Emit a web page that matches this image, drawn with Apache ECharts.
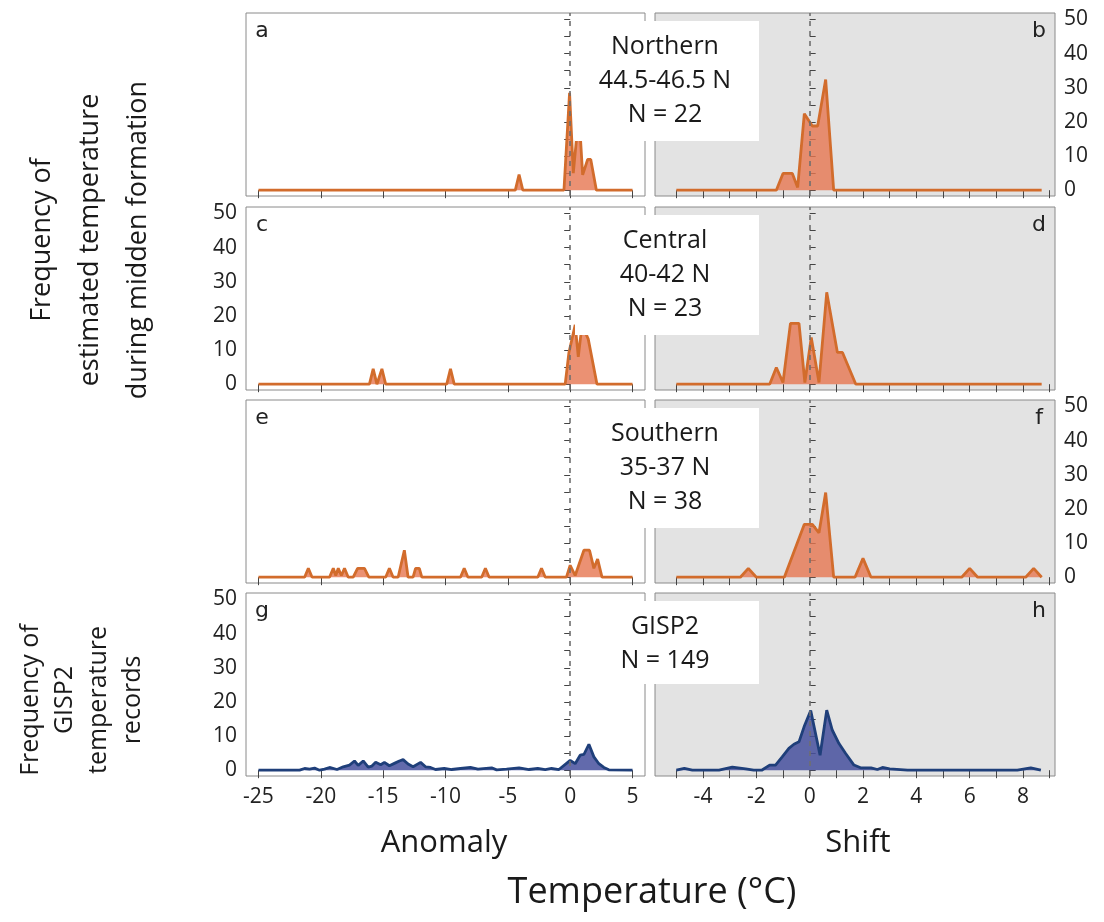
<!DOCTYPE html>
<html><head><meta charset="utf-8">
<script src="https://cdn.jsdelivr.net/npm/echarts@6/dist/echarts.min.js"></script>
<style>html,body{margin:0;padding:0;background:#fff}#c{width:1104px;height:922px}</style>
</head><body><div id="c"></div>
<script>
// ---- tick / label values ----
const anomalyTicks = [-25, -20, -15, -10, -5, 0, 5];
const shiftTicks = [-5, -4, -3, -2, -1, 0, 1, 2, 3, 4, 5, 6, 7, 8, 9];
const shiftLabels = [-4, -2, 0, 2, 4, 6, 8];
const freqTicks = [0, 5, 10, 15, 20, 25, 30, 35, 40, 45, 50];
const freqLabels = [0, 10, 20, 30, 40, 50];

// ---- region labels ----
const regionNames = ['Northern', 'Central', 'Southern', 'GISP2'];
const regionLats = ['44.5-46.5 N', '40-42 N', '35-37 N', ''];
const regionN = [22, 23, 38, 149];
const panelLetters = [['a', 'b'], ['c', 'd'], ['e', 'f'], ['g', 'h']];

// ---- series data: [temperature, frequency %] ----
const northernAnomaly = [[-25,0],[-4.4,0],[-4.1,4.6],[-3.8,0],[-0.5,0],[-0.05,28.5],[0.25,5],[0.7,22.7],[1.0,4.5],[1.4,9],[1.65,9],[2.1,0],[5,0]];
const northernShift = [[-5,0],[-1.25,0],[-1.0,4.9],[-0.65,4.9],[-0.45,0.8],[-0.2,22.4],[0.1,18.8],[0.3,18.8],[0.6,32.4],[0.9,0],[8.7,0]];
const centralAnomaly = [[-25,0],[-16.1,0],[-15.8,4.5],[-15.5,0],[-15.4,0],[-15.1,4.5],[-14.8,0],[-9.9,0],[-9.6,4.5],[-9.3,0],[-0.4,0],[-0.1,9.3],[0.4,17.4],[0.65,8],[0.95,17.4],[1.45,13.2],[2.15,0],[5,0]];
const centralShift = [[-5,0],[-1.5,0],[-1.25,4.9],[-1.0,0.5],[-0.72,17.8],[-0.4,17.8],[-0.18,0.5],[0.06,13.7],[0.35,0.5],[0.64,26.9],[1.04,9.3],[1.23,9.3],[1.73,0],[8.7,0]];
const southernAnomaly = [[-25,0],[-21.3,0],[-21.0,2.6],[-20.7,0],[-19.3,0],[-19.0,2.6],[-18.8,0.5],[-18.6,2.6],[-18.35,0.5],[-18.1,2.6],[-17.8,0],[-17.4,0],[-17.05,2.6],[-16.5,2.6],[-16.15,0],[-14.8,0],[-14.5,2.6],[-14.2,0],[-13.8,0],[-13.3,7.9],[-13.0,0],[-12.6,0],[-12.4,2.6],[-12.1,2.6],[-11.9,0],[-8.8,0],[-8.5,2.6],[-8.2,0],[-7.1,0],[-6.8,2.6],[-6.5,0],[-2.6,0],[-2.3,2.6],[-2.0,0],[-0.3,0],[0.0,3.5],[0.4,0.5],[1.1,7.9],[1.55,7.9],[1.9,2.6],[2.2,5.3],[2.55,0],[5,0]];
const southernShift = [[-5,0],[-2.6,0],[-2.3,2.6],[-2.0,0],[-0.95,0],[-0.2,15.5],[0.1,15.5],[0.35,13.0],[0.6,24.8],[0.9,0],[1.7,0],[2.0,5.5],[2.3,0],[5.7,0],[6.0,2.6],[6.3,0],[8.1,0],[8.4,2.6],[8.7,0]];
const gisp2Anomaly = [[-25,0],[-21.7,0],[-21.3,0.5],[-20.9,0.3],[-20.5,0.6],[-20.1,0],[-19.7,0.3],[-19.3,0.8],[-18.7,0.2],[-18.2,1.0],[-17.7,1.5],[-17.3,2.7],[-17.0,1.4],[-16.6,2.7],[-16.2,0.9],[-15.9,1.2],[-15.6,2.3],[-15.2,1.6],[-14.9,2.3],[-14.5,1.3],[-14.1,2.0],[-13.7,2.7],[-13.4,3.1],[-13.0,1.8],[-12.6,1.0],[-12.0,2.3],[-11.6,1.0],[-11.2,0.8],[-10.8,0.2],[-10.1,0.5],[-9.5,0.2],[-8.8,0.5],[-8.0,0.8],[-7.4,0.3],[-6.3,0.7],[-5.9,0.1],[-5.1,0.3],[-4.1,0.7],[-3.3,0.2],[-2.6,0.5],[-2.0,0.2],[-1.5,0.5],[-0.9,0.2],[0.0,2.9],[0.4,1.9],[0.8,4.4],[1.1,4.6],[1.5,7.6],[1.9,3.9],[2.3,1.9],[2.7,0.8],[3.1,0.1],[5,0]];
const gisp2Shift = [[-5,0],[-4.7,0.5],[-4.4,0],[-3.4,0],[-2.9,0.9],[-2.4,0.4],[-2.1,0],[-1.8,0],[-1.5,1.5],[-1.28,1.5],[-1.03,3.9],[-0.78,6.4],[-0.59,7.6],[-0.4,8.3],[-0.21,12.7],[0.04,17.5],[0.39,4.4],[0.64,17.6],[0.85,11.7],[1.1,7.8],[1.35,4.9],[1.66,1.5],[1.91,0.7],[2.3,0.7],[2.54,0.2],[2.73,0.8],[3.0,0.4],[3.67,0],[7.79,0],[8.29,0.7],[8.67,0]];

const rows = [
  [northernAnomaly, northernShift],
  [centralAnomaly, centralShift],
  [southernAnomaly, southernShift],
  [gisp2Anomaly, gisp2Shift]
];

// ---- layout ----
const FONT = "'Open Sans', 'Noto Sans', sans-serif";
const rowTops = [13, 207, 400, 593];
const rowH = 183;
const leftGrid = { left: 246, width: 399 };
const rightGrid = { left: 655, width: 400 };
const orange = { line: '#D26C2C', fill: 'rgba(230,118,80,0.8)' };
const blue = { line: '#1F3F7A', fill: 'rgba(70,80,158,0.85)' };

const grids = [], xAxes = [], yAxes = [], series = [], graphics = [];

rows.forEach((pair, r) => {
  const col = r === 3 ? blue : orange;
  pair.forEach((data, c) => {
    const gi = r * 2 + c;
    const g = c === 0 ? leftGrid : rightGrid;
    grids.push({
      left: g.left, width: g.width, top: rowTops[r], height: rowH,
      show: true, borderColor: '#8a8a8a', borderWidth: 1,
      backgroundColor: c === 0 ? '#ffffff' : '#e3e3e3'
    });
    xAxes.push({
      type: 'value', gridIndex: gi,
      min: c === 0 ? -26 : -5.8, max: c === 0 ? 6 : 9.2,
      axisLine: { show: false },
      splitLine: { show: false },
      axisTick: { show: true, length: 8, customValues: c === 0 ? anomalyTicks : shiftTicks, lineStyle: { color: '#444', width: 1 } },
      axisLabel: { show: r === 3, customValues: c === 0 ? anomalyTicks : shiftLabels, margin: 11, fontFamily: FONT, fontSize: 21, color: '#222' }
    });
    const showY = (c === 0 && (r === 1 || r === 3)) || (c === 1 && (r === 0 || r === 2));
    yAxes.push({
      type: 'value', gridIndex: gi, position: c === 0 ? 'left' : 'right',
      min: -1.7, max: 51.9,
      axisLine: { show: false },
      splitLine: { show: false },
      axisTick: { show: true, length: 6, customValues: freqTicks, lineStyle: { color: '#444', width: 1 } },
      axisLabel: { show: showY, customValues: freqLabels, margin: 9, fontFamily: FONT, fontSize: 21, color: '#222' }
    });
    series.push({
      type: 'line', xAxisIndex: gi, yAxisIndex: gi, data: data,
      symbol: 'none', silent: true, animation: false,
      lineStyle: { color: col.line, width: 2.8 },
      itemStyle: { color: col.line },
      areaStyle: { color: col.fill, opacity: 1 },
      z: 3,
      markLine: {
        symbol: 'none', silent: true, animation: false,
        label: { show: false },
        lineStyle: { type: [5, 5], color: '#6f6f6f', width: 1.6 },
        data: [{ xAxis: 0 }],
        z: 4
      }
    });
    // panel letter
    graphics.push({
      type: 'text', z: 50,
      x: c === 0 ? 262 : 1039, y: rowTops[r] + 18,
      style: { text: panelLetters[r][c], font: "22px 'DejaVu Sans', sans-serif", fill: '#222', textAlign: 'center', textVerticalAlign: 'middle' }
    });
  });
  // white label box
  const lines = [regionNames[r]];
  if (regionLats[r]) lines.push(regionLats[r]);
  lines.push('N = ' + regionN[r]);
  const boxTop = rowTops[r] + 8;
  const boxH = lines.length === 3 ? 120 : 83;
  graphics.push({ type: 'rect', z: 40, shape: { x: 575, y: boxTop, width: 184, height: boxH }, style: { fill: '#ffffff' } });
  lines.forEach((t, i) => {
    graphics.push({
      type: 'text', z: 41, x: 665, y: boxTop + 26 + i * 34,
      style: { text: t, font: "25px " + FONT, fill: '#1a1a1a', textAlign: 'center', textVerticalAlign: 'middle' }
    });
  });
});

// axis titles
graphics.push({
  type: 'text', z: 50, x: 90, y: 240, rotation: Math.PI / 2,
  style: { text: 'Frequency of\nestimated temperature\nduring midden formation', font: "27px " + FONT, lineHeight: 48, fill: '#1a1a1a', textAlign: 'center', textVerticalAlign: 'middle' }
});
graphics.push({
  type: 'text', z: 50, x: 82, y: 700, rotation: Math.PI / 2,
  style: { text: 'Frequency of\nGISP2\ntemperature\nrecords', font: "25px " + FONT, lineHeight: 34, fill: '#1a1a1a', textAlign: 'center', textVerticalAlign: 'middle' }
});
graphics.push({
  type: 'text', z: 50, x: 444, y: 843,
  style: { text: 'Anomaly', font: "31px " + FONT, fill: '#1a1a1a', textAlign: 'center', textVerticalAlign: 'middle' }
});
graphics.push({
  type: 'text', z: 50, x: 858, y: 843,
  style: { text: 'Shift', font: "31px " + FONT, fill: '#1a1a1a', textAlign: 'center', textVerticalAlign: 'middle' }
});
graphics.push({
  type: 'text', z: 50, x: 652, y: 893,
  style: { text: 'Temperature (°C)', font: "36px " + FONT, fill: '#1a1a1a', textAlign: 'center', textVerticalAlign: 'middle' }
});

const chart = echarts.init(document.getElementById('c'), null, { renderer: 'canvas' });
chart.setOption({
  animation: false,
  backgroundColor: '#ffffff',
  grid: grids, xAxis: xAxes, yAxis: yAxes, series: series,
  graphic: { elements: graphics }
});
</script>
</body></html>
